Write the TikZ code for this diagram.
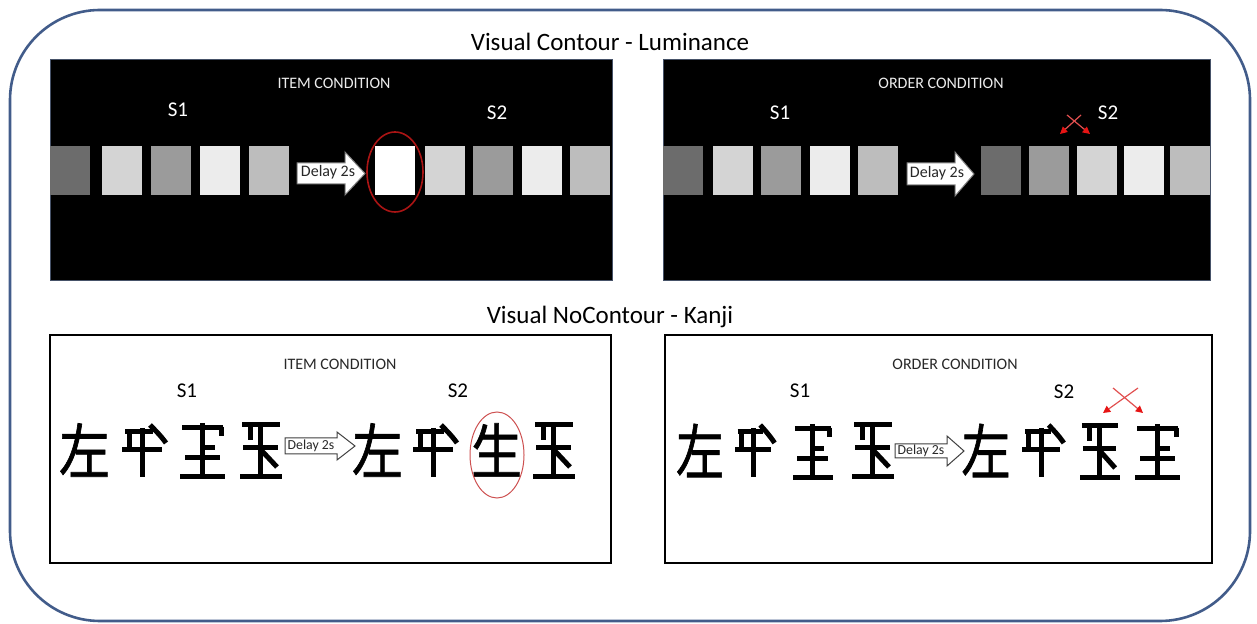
\documentclass[tikz,border=0pt]{standalone}
\usepackage{fontspec}
\setmainfont{Carlito}
\newfontfamily\cjkfont[FakeBold=1.2]{Noto Sans CJK JP}
\usetikzlibrary{arrows.meta,shapes.geometric}

\definecolor{framecol}{RGB}{66,92,138}
\definecolor{paneledge}{RGB}{70,82,104}
\definecolor{gA}{RGB}{108,108,108}
\definecolor{gB}{RGB}{212,212,212}
\definecolor{gC}{RGB}{155,155,155}
\definecolor{gD}{RGB}{236,236,236}
\definecolor{gE}{RGB}{189,189,189}
\definecolor{ringdark}{RGB}{170,20,20}
\definecolor{ringlight}{RGB}{205,80,80}
\definecolor{swapline}{RGB}{225,80,80}
\definecolor{swaphead}{RGB}{230,20,20}
\definecolor{inktext}{RGB}{40,40,40}

\tikzset{
  title/.style={font=\fontsize{12.5pt}{15pt}\selectfont, text=black, inner sep=0pt},
  condw/.style={font=\fontsize{8pt}{10pt}\selectfont, text=gD, inner sep=0pt},
  condb/.style={font=\fontsize{8pt}{10pt}\selectfont, text=inktext, inner sep=0pt},
  slabw/.style={font=\fontsize{10.5pt}{12pt}\selectfont, text=white, inner sep=0pt},
  slabb/.style={font=\fontsize{10.5pt}{12pt}\selectfont, text=black, inner sep=0pt},
  sq/.style={minimum width=20pt, minimum height=24.5pt, inner sep=0pt, outer sep=0pt},
  delaybig/.style={font=\fontsize{8pt}{10pt}\selectfont, text=inktext, inner sep=0pt},
  delaysmall/.style={font=\fontsize{6.9pt}{8pt}\selectfont, text=inktext, inner sep=0pt},
  blockarrow/.style={fill=white, draw=gray, line width=0.5pt, line join=miter},
  outlinearrow/.style={fill=white, draw=black!75, line width=0.5pt, line join=miter},
  kanji/.style={font=\cjkfont\fontsize{30pt}{30pt}\selectfont, inner sep=0pt},
  kstroke/.style={line width=2.5pt, line cap=butt},
  swap/.style={draw=swapline, line width=0.6pt, -{Triangle[length=3.6pt,width=3.6pt,color=swaphead,fill=swaphead]}},
  % stroke-built variant characters, drawn in a 45 x 54 cell
  pics/kanjiNian/.style={code={
    \draw[kstroke] (28,2) .. controls (34,8) and (39,13) .. (44,20);
    \draw[kstroke] (3,9) -- (31,9);
    \draw[kstroke] (7,7.75) -- (7,27);
    \draw[kstroke] (0,27) -- (40,27);
    \draw[kstroke] (20,5) -- (20,54);
  }},
  pics/kanjiZhu/.style={code={
    \draw[kstroke] (2,5) -- (43,5);
    \draw[kstroke] (41.75,3.75) -- (41.75,13);
    \draw[kstroke] (22,0) -- (22,54);
    \draw[kstroke] (22,25) -- (35,25);
    \draw[kstroke] (5,35) -- (40,35);
    \draw[kstroke] (0,53.5) -- (45,53.5);
  }},
  pics/kanjiYu/.style={code={
    \draw[kstroke] (2,2) -- (40,2);
    \draw[kstroke] (10,2) -- (10,17);
    \draw[kstroke] (20,2) -- (20,54);
    \draw[kstroke] (3,25) -- (38,25);
    \draw[kstroke] (22,28) -- (37,44);
    \draw[kstroke] (0,54) -- (42,54);
  }},
}

\begin{document}
\begin{tikzpicture}[x=0.5pt,y=-0.5pt]
\useasboundingbox (0,0) rectangle (1257,624);

% outer rounded frame
\draw[framecol, line width=1.3pt, rounded corners=45pt] (10,10) rectangle (1250,621);

% section titles
\node[title] (titleA) at (610,42) {Visual Contour - Luminance};
\node[title] (titleB) at (610,317) {Visual NoContour - Kanji};

% ---------- luminance panels ----------
\fill[black, draw=paneledge, line width=0.5pt] (50,60) rectangle (612,281);
\fill[black, draw=paneledge, line width=0.5pt] (663,60) rectangle (1210,281);

\node[condw] (condA) at (334,83) {ITEM CONDITION};
\node[condw] (condB) at (941,83) {ORDER CONDITION};
\node[slabw] (sA1) at (178,110) {S1};
\node[slabw] (sA2) at (497,113) {S2};
\node[slabw] (sB1) at (780,113) {S1};
\node[slabw] (sB2) at (1108,113) {S2};

% item condition squares
\foreach \x/\c [count=\i] in {50/gA,102/gB,151/gC,200/gD,249/gE}
  \node[sq, fill=\c] (ia\i) at (\x+20,170.5) {};
\foreach \x/\c [count=\i] in {375/white,425/gB,473/gC,522/gD,570/gE}
  \node[sq, fill=\c] (ib\i) at (\x+20,170.5) {};

% order condition squares
\foreach \x/\c [count=\i] in {663/gA,713/gB,761/gC,810/gD,858/gE}
  \node[sq, fill=\c] (oa\i) at (\x+20,170.5) {};
\foreach \x/\c [count=\i] in {981/gA,1029/gC,1077/gB,1124/gD,1170/gE}
  \node[sq, fill=\c] (ob\i) at (\x+20,170.5) {};

% delay arrows (luminance)
\draw[blockarrow] (297,163) -- (345,163) -- (345,152) -- (365,173.5) -- (345,195) -- (345,184) -- (297,184) -- cycle;
\node[delaybig] (dA) at (328,172) {Delay 2s};
\draw[blockarrow] (907,163) -- (955,163) -- (955,152) -- (974,174) -- (955,196) -- (955,185) -- (907,185) -- cycle;
\node[delaybig] (dB) at (937,173) {Delay 2s};

% changed item marker
\node[draw=ringdark, line width=0.8pt, ellipse, minimum width=28pt, minimum height=40pt, inner sep=0pt] (ringA) at (395,172) {};

% swapped order marker
\coordinate (swA1) at (1081,115);
\coordinate (swA2) at (1060,134);
\coordinate (swA3) at (1067,115);
\coordinate (swA4) at (1090,134);
\draw[swap] (swA1) -- (swA2);
\draw[swap] (swA3) -- (swA4);

% ---------- kanji panels ----------
\draw[black, line width=1pt] (50,335) rectangle (611,563);
\draw[black, line width=1pt] (665,335) rectangle (1212,563);

\node[condb] (condC) at (340,364) {ITEM CONDITION};
\node[condb] (condD) at (955,364) {ORDER CONDITION};
\node[slabb] (sC1) at (187,391) {S1};
\node[slabb] (sC2) at (458,391) {S2};
\node[slabb] (sD1) at (800,391) {S1};
\node[slabb] (sD2) at (1064,392) {S2};

% item condition characters
\node[kanji] (kc1) at (84.5,450) {\scalebox{0.85}[1]{左}};
\pic at (122,423) {kanjiNian};
\pic at (180,423) {kanjiZhu};
\pic at (240,423) {kanjiYu};
\node[kanji] (kc5) at (377.5,450) {\scalebox{0.85}[1]{左}};
\pic at (413,423) {kanjiNian};
\node[kanji] (kc7) at (496.5,450) {\scalebox{0.85}[1]{生}};
\pic at (533,423) {kanjiYu};

\draw[outlinearrow] (285,438) -- (337,438) -- (337,432) -- (355,446) -- (337,460) -- (337,454) -- (285,454) -- cycle;
\node[delaysmall] (dC) at (311,445.5) {Delay 2s};
\node[draw=ringlight, line width=0.5pt, ellipse, minimum width=27pt, minimum height=43pt, inner sep=0pt] (ringC) at (497,455) {};

% order condition characters
\node[kanji] (kd1) at (700,450.5) {\scalebox{0.8}[1]{左}};
\pic[xscale=0.9] at (735,423) {kanjiNian};
\pic[xscale=0.88] at (793,424) {kanjiZhu};
\pic at (852,423) {kanjiYu};
\node[kanji] (kd5) at (986,450.5) {\scalebox{0.82}[1]{左}};
\pic[xscale=0.95] at (1022,423) {kanjiNian};
\pic[xscale=0.95] at (1080,424) {kanjiYu};
\pic at (1135,424) {kanjiZhu};

\draw[outlinearrow] (895,444) -- (947,444) -- (947,436) -- (964,451) -- (947,466) -- (947,458) -- (895,458) -- cycle;
\node[delaysmall] (dD) at (921,451) {Delay 2s};

\coordinate (swB1) at (1138,388);
\coordinate (swB2) at (1103,413);
\coordinate (swB3) at (1113,388);
\coordinate (swB4) at (1143,413);
\draw[swap] (swB1) -- (swB2);
\draw[swap] (swB3) -- (swB4);
\end{tikzpicture}
\end{document}
